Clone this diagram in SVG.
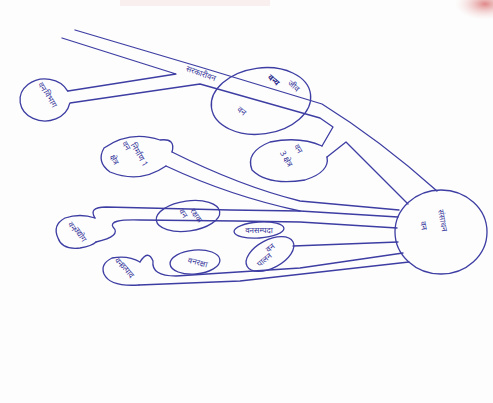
<svg xmlns="http://www.w3.org/2000/svg" width="493" height="403" viewBox="0 0 493 403">
<defs>
<style>
.ink{fill:none;stroke:#3d3da3;stroke-width:1.3;stroke-linecap:round;stroke-linejoin:round}
.lbl{font-family:"Noto Sans","Liberation Sans",sans-serif;font-size:8px;fill:#34349a}
.bold{font-weight:bold;fill:#28288a}
</style>
<radialGradient id="pink" cx="0.5" cy="0.5" r="0.5">
<stop offset="0" stop-color="#d86a6a" stop-opacity="0.8"/>
<stop offset="1" stop-color="#f4d0d0" stop-opacity="0"/>
</radialGradient>
</defs>
<rect width="493" height="403" fill="#fdfdfd"/>
<ellipse cx="485" cy="4" rx="30" ry="16" fill="url(#pink)"/>
<rect x="120" y="0" width="150" height="6" fill="#f6e8e8" opacity="0.7"/>

<g id="connectors">
<path class="ink" d="M75,30 L200,67 L322,104 Q380,140 437,191"/>
<path class="ink" d="M62,38 L176,74 L68,91"/>
<path class="ink" d="M70,103 L200,84 L320,118 L333,127 L322,146"/>
<path class="ink" d="M327,157 L346,142 L408,204"/>
<path class="ink" d="M172,152 Q240,186 300,201 L399,210"/>
<path class="ink" d="M166,166 Q230,196 300,211"/>
<path class="ink" d="M95,218 Q88,207 106,207 L230,210 L300,211 L398,217"/>
<path class="ink" d="M96,242 Q122,236 113,227 Q108,219 140,220 L236,221 L300,222 L397,228"/>
<path class="ink" d="M293,246 L398,242"/>
<path class="ink" d="M140,262 Q148,249 153,261 Q151,276 176,276 L300,268 L403,253"/>
<path class="ink" d="M139,285 L240,281 L409,262"/>
</g>

<g id="n-center">
<ellipse class="ink" cx="441" cy="232" rx="46" ry="42"/>
<text class="lbl" font-size="10" transform="translate(421,226) rotate(80)" text-anchor="middle">वन</text>
<text class="lbl" font-size="10" transform="translate(440,221) rotate(80)" text-anchor="middle">संसाधन</text>
</g>
<g id="n-band-label">
<text class="lbl" transform="translate(200,76) rotate(20)" text-anchor="middle">सरकारीवन</text>
</g>
<g id="n1">
<path class="ink" d="M67.7,91.1 A25,21 0 1 0 69.6,103.6"/>
<text class="lbl" transform="translate(40,88) rotate(60)" text-anchor="middle">वन</text>
<text class="lbl" transform="translate(48,100) rotate(60)" text-anchor="middle">विभाग</text>
</g>
<g id="n2">
<ellipse class="ink" cx="261" cy="101" rx="50" ry="33" transform="rotate(-8 261 101)"/>
<text class="lbl bold" transform="translate(272,82) rotate(40)" text-anchor="middle">वन्य</text>
<text class="lbl" transform="translate(292,88) rotate(40)" text-anchor="middle">जीव</text>
<text class="lbl" transform="translate(240,113) rotate(40)" text-anchor="middle">वन</text>
</g>
<g id="n3">
<path class="ink" d="M172,152 Q176,138 160,140 Q130,130 104,148 Q96,162 110,172 Q140,184 166,166"/>
<text class="lbl" transform="translate(124,147) rotate(60)" text-anchor="middle">वन</text>
<text class="lbl" transform="translate(137,156) rotate(60)" text-anchor="middle">निर्माण 1</text>
<text class="lbl" transform="translate(112,161) rotate(60)" text-anchor="middle">क्षेत्र</text>
</g>
<g id="n4">
<path class="ink" d="M322,146 Q300,136 270,142 Q245,152 252,170 Q268,186 305,180 Q330,172 327,157"/>
<text class="lbl" transform="translate(296,150) rotate(60)" text-anchor="middle">वन</text>
<text class="lbl" transform="translate(284,160) rotate(60)" text-anchor="middle">3 क्षेत्र</text>
</g>
<g id="n5">
<path class="ink" d="M95,218 Q80,213 65,218 Q52,225 58,238 Q62,250 80,248 Q92,246 96,242"/>
<text class="lbl" transform="translate(70,228) rotate(55)" text-anchor="middle">वन</text>
<text class="lbl" transform="translate(78,236) rotate(55)" text-anchor="middle">उद्योग</text>
</g>
<g id="n6">
<ellipse class="ink" cx="188" cy="216" rx="32" ry="15" transform="rotate(-8 188 216)"/>
<text class="lbl" transform="translate(181,215) rotate(55)" text-anchor="middle">वन</text>
<text class="lbl" transform="translate(194,217) rotate(55)" text-anchor="middle">रक्षक</text>
</g>
<g id="n7">
<ellipse class="ink" cx="259" cy="230" rx="25" ry="8" transform="rotate(-4 259 230)"/>
<text class="lbl" x="259" y="233" text-anchor="middle" font-size="7">वनसम्पदा</text>
</g>
<g id="n8">
<ellipse class="ink" cx="270" cy="254" rx="26" ry="14" transform="rotate(-28 270 254)"/>
<text class="lbl" transform="translate(272,250) rotate(-40)" text-anchor="middle">वन</text>
<text class="lbl" transform="translate(266,262) rotate(-40)" text-anchor="middle">पालन</text>
</g>
<g id="n9">
<ellipse class="ink" cx="195" cy="262" rx="25" ry="12" transform="rotate(-5 195 262)"/>
<text class="lbl" transform="translate(197,265) rotate(15)" text-anchor="middle" font-size="7">वनरक्षा</text>
</g>
<g id="n10">
<path class="ink" d="M140,262 Q128,255 112,258 Q100,264 104,274 Q110,287 139,285"/>
<text class="lbl" transform="translate(117,264) rotate(50)" text-anchor="middle">वन</text>
<text class="lbl" transform="translate(125,272) rotate(50)" text-anchor="middle">उत्पाद</text>
</g>
</svg>
